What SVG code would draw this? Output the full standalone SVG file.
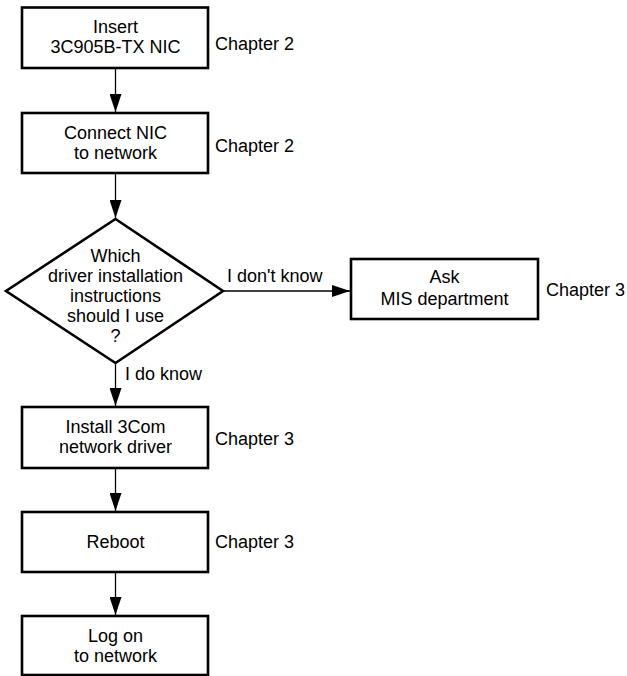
<svg xmlns="http://www.w3.org/2000/svg" width="627" height="676" viewBox="0 0 627 676">
<defs>
<style>
.box{fill:#fff;stroke:#000;stroke-width:2.6}
.t{font-family:"Liberation Sans",Arial,sans-serif;font-size:18px;fill:#000}
.c{text-anchor:middle}
.ln{fill:none;stroke:#000;stroke-width:1.3}
</style>
<marker id="ah" viewBox="0 0 18 12" refX="18" refY="6" markerWidth="18" markerHeight="12" markerUnits="userSpaceOnUse" orient="auto">
<path d="M0,0 L18,6 L0,12 Z" fill="#000"/>
</marker>
</defs>
<rect width="627" height="676" fill="#fff"/>
<g id="connectors">
<line class="ln" x1="115.5" y1="68" x2="115.5" y2="112" marker-end="url(#ah)"/>
<line class="ln" x1="115.5" y1="173" x2="115.5" y2="218" marker-end="url(#ah)"/>
<line class="ln" x1="223" y1="291" x2="350" y2="291" marker-end="url(#ah)"/>
<line class="ln" x1="115.5" y1="363" x2="115.5" y2="406" marker-end="url(#ah)"/>
<line class="ln" x1="115.5" y1="468" x2="115.5" y2="511" marker-end="url(#ah)"/>
<line class="ln" x1="115.5" y1="572" x2="115.5" y2="615" marker-end="url(#ah)"/>
<text class="t" x="227" y="282">I don't know</text>
<text class="t" x="125" y="380">I do know</text>
</g>
<g id="n1">
<rect class="box" x="22" y="7.5" width="186" height="60.5"/>
<text class="t c" x="115.5" y="33">Insert</text>
<text class="t c" x="115.5" y="53">3C905B-TX NIC</text>
<text class="t" x="215" y="50">Chapter 2</text>
</g>
<g id="n2">
<rect class="box" x="22" y="113" width="186" height="60"/>
<text class="t c" x="115.5" y="139">Connect NIC</text>
<text class="t c" x="115.5" y="159">to network</text>
<text class="t" x="215" y="152">Chapter 2</text>
</g>
<g id="n3">
<polygon class="box" points="115.5,219 223,291 115.5,363 6,291"/>
<text class="t c" x="115.5" y="262">Which</text>
<text class="t c" x="115.5" y="282">driver installation</text>
<text class="t c" x="115.5" y="302">instructions</text>
<text class="t c" x="115.5" y="322">should I use</text>
<text class="t c" x="115.5" y="342">?</text>
</g>
<g id="n4">
<rect class="box" x="351" y="259" width="187" height="60"/>
<text class="t c" x="444.5" y="283">Ask</text>
<text class="t c" x="444.5" y="305">MIS department</text>
<text class="t" x="546" y="296">Chapter 3</text>
</g>
<g id="n5">
<rect class="box" x="22" y="407" width="186" height="61"/>
<text class="t c" x="115.5" y="433">Install 3Com</text>
<text class="t c" x="115.5" y="453">network driver</text>
<text class="t" x="215" y="445">Chapter 3</text>
</g>
<g id="n6">
<rect class="box" x="22" y="512" width="186" height="60"/>
<text class="t c" x="115.5" y="548">Reboot</text>
<text class="t" x="215" y="548">Chapter 3</text>
</g>
<g id="n7">
<rect class="box" x="22" y="616" width="186" height="59"/>
<text class="t c" x="115.5" y="642">Log on</text>
<text class="t c" x="115.5" y="662">to network</text>
</g>
</svg>
